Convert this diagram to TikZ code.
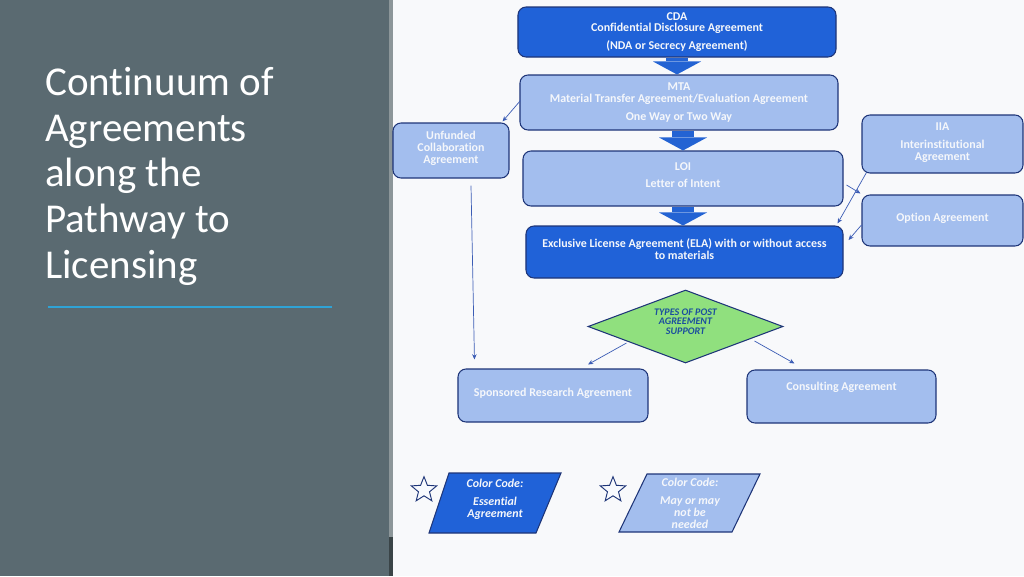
\documentclass[tikz,border=0pt]{standalone}
\usepackage{fontspec}
\setmainfont{Carlito}[Ligatures=NoCommon]
\usetikzlibrary{shapes.geometric,arrows.meta,calc}
\definecolor{panel}{HTML}{5A6A71}
\definecolor{strip}{HTML}{8C9699}
\definecolor{stripdark}{HTML}{3A4447}
\definecolor{bgwhite}{HTML}{F8F9FB}
\definecolor{darkfill}{HTML}{2062D8}
\definecolor{lightfill}{HTML}{A3BEEE}
\definecolor{edge}{HTML}{1E3578}
\definecolor{greenfill}{HTML}{90E07E}
\definecolor{arrowblue}{HTML}{2363D3}
\definecolor{thinline}{HTML}{3C5DB5}
\definecolor{txtlight}{HTML}{F5F7FB}
\definecolor{diatext}{HTML}{1B4E9E}
\definecolor{rule}{HTML}{2FA3D6}
\begin{document}
\begin{tikzpicture}[x=0.03cm,y=-0.03cm,
  boxbase/.style={rectangle, rounded corners=0.24cm, draw=edge, line width=0.9pt, align=center,
    text=txtlight, font=\fontsize{10.2}{10.2}\selectfont\bfseries, inner sep=1pt},
  dbox/.style={boxbase, fill=darkfill},
  lbox/.style={boxbase, fill=lightfill},
  blockarrow/.style={draw=arrowblue, line width=0.64cm,
    -{Triangle[width=1.44cm,length=0.39cm,line width=0pt]}},
  thinarrow/.style={draw=thinline, line width=0.6pt, -{Stealth[length=4.5pt,width=3.8pt]}},
  pgram/.style={draw=edge, line width=0.9pt},
  ctext/.style={align=center, text=txtlight, font=\fontsize{10.2}{10.2}\selectfont\bfseries\itshape, inner sep=0pt},
  dtext/.style={align=center, text=diatext, font=\fontsize{8.6}{8.2}\selectfont\bfseries\itshape, inner sep=0pt},
  starmark/.style={star, star points=5, star point ratio=2.3, draw=edge, fill=white!92!lightfill,
    line width=0.8pt, minimum size=0.8cm, inner sep=0pt}
]
\useasboundingbox (0,0) rectangle (1024,576);
\fill[bgwhite] (0,0) rectangle (1024,576);
\fill[panel] (0,0) rectangle (389,576);
\fill[strip] (389,0) rectangle (393,537);
\fill[stripdark] (389,537) rectangle (393,576);

% title
\node[anchor=north west, align=left, text=white, inner sep=0pt,
  font=\fontsize{35}{39}\selectfont] (title) at (45,67)
  {Continuum of\\Agreements\\along the\\Pathway to\\Licensing};
\draw[rule, line width=1.3pt] (48,307) -- (332,307);

% main column
\node[dbox, minimum width=9.54cm, minimum height=1.5cm] (cda) at (677,32)
  {CDA\\Confidential Disclosure Agreement\\[5pt](NDA or Secrecy Agreement)};
\node[lbox, minimum width=9.54cm, minimum height=1.65cm] (mta) at (679,102.5)
  {MTA\\Material Transfer Agreement/Evaluation Agreement\\[5pt]One Way or Two Way};
\node[lbox, minimum width=9.6cm, minimum height=1.65cm] (loi) at (683,178.5)
  {LOI\\[5pt]Letter of Intent\\[-4.3pt]};
\node[dbox, minimum width=9.51cm, minimum height=1.56cm] (ela) at (684.5,252)
  {Exclusive License Agreement (ELA) with or without access\\to materials\\[-5.1pt]};

% side boxes
\node[lbox, minimum width=3.48cm, minimum height=1.65cm] (unf) at (451,150.5)
  {Unfunded\\Collaboration\\Agreement\\[-4.3pt]};
\node[lbox, minimum width=4.83cm, minimum height=1.74cm] (iia) at (942.5,144)
  {IIA\\[5pt]Interinstitutional\\Agreement\\[-6pt]};
\node[lbox, minimum width=4.83cm, minimum height=1.53cm] (opt) at (942.5,220.5)
  {Option Agreement\\[-4.3pt]};

% diamond
\node[diamond, draw=edge, line width=0.9pt, fill=greenfill, minimum width=5.85cm, minimum height=2.19cm,
  inner sep=0pt,
  label={[dtext, yshift=0.15cm]center:{TYPES OF POST\\AGREEMENT\\SUPPORT}}] (dia) at (685.5,326.5) {};

% lower boxes
\node[lbox, minimum width=5.7cm, minimum height=1.59cm] (spons) at (553,395.5)
  {Sponsored Research Agreement\\[-4.3pt]};
\node[lbox, minimum width=5.67cm, minimum height=1.59cm] (cons) at (841.5,396.5)
  {Consulting Agreement\\[7.7pt]};

% block arrows
\draw[blockarrow] (cda.south) -- (cda.south |- mta.north);
\draw[blockarrow] ([xshift=0.12cm]mta.south) -- ([xshift=0.12cm]mta.south |- loi.north);
\draw[blockarrow] (loi.south) -- (loi.south |- ela.north);

% thin arrows
\draw[thinarrow] ($(mta.west)+(1,-2)$) -- ($(unf.north east)+(-7,-1)$);
\draw[thinarrow] ($(unf.south)+(20,7)$) -- ($(spons.north west)+(17,-9)$);
\draw[thinarrow] ($(loi.east)+(3,6.5)$) -- ($(opt.north west)+(-1,-1)$);
\draw[thinarrow] ($(iia.south west)+(5,-1)$) -- ($(ela.north east)+(-6,-2)$);
\draw[thinarrow] ($(opt.west)+(0,4.5)$) -- ($(ela.east)+(5,-12)$);
\draw[thinarrow] ($(dia.south west)+(-10,-2)$) -- ($(spons.north)+(35,-4)$);
\draw[thinarrow] ($(dia.south east)+(20,-4)$) -- ($(cons.north west)+(48,-6)$);

% legend
\node[starmark] (star1) at (424,490) {};
\node[starmark] (star2) at (613,490) {};
\filldraw[pgram, fill=darkfill] (449,473) -- (561,473) -- (536,533) -- (429,533) -- cycle;
\filldraw[pgram, fill=lightfill] (647,474) -- (760,474) -- (732,532) -- (619,532) -- cycle;
\node[ctext] (cc1) at (495,499) {Color Code:\\[5pt]Essential\\Agreement};
\node[ctext] (cc2) at (690,503.5) {Color Code:\\[5pt]May or may\\not be\\needed};
\end{tikzpicture}
\end{document}
